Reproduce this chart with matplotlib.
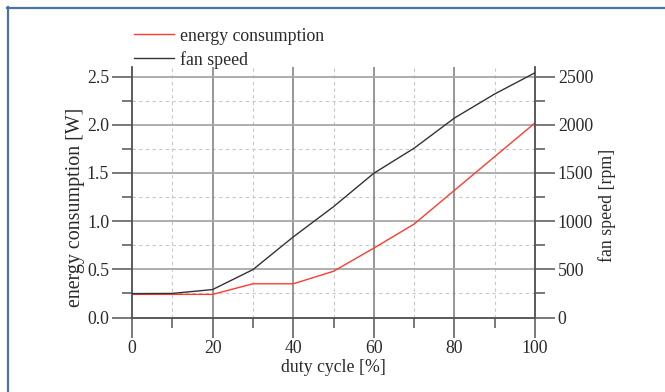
import matplotlib
matplotlib.use("Agg")
import matplotlib.pyplot as plt
from matplotlib.ticker import MultipleLocator
from matplotlib.lines import Line2D

duty_cycle = [0, 10, 20, 30, 40, 50, 60, 70, 80, 90, 100]
energy_w = [0.24, 0.24, 0.24, 0.35, 0.35, 0.48, 0.72, 0.97, 1.32, 1.67, 2.02]
fan_rpm = [248, 250, 290, 497, 836, 1150, 1497, 1757, 2070, 2320, 2540]

plt.rcParams['font.family'] = ['Liberation Serif', 'DejaVu Serif']
FS = 12.8
plt.rcParams['font.size'] = FS

fig = plt.figure(figsize=(6.65, 3.92), dpi=100)
W, H = 665, 392
ax = fig.add_axes([132 / W, 1 - 317.5 / H, (535 - 132) / W, (317.5 - 67) / H])
ax2 = ax.twinx()

red = '#ff3c2e'
dark = '#333333'
maj_v = '#7a7a7a'
maj_h = '#a8a8a8'
minc = '#c8c8c8'
txt = '#2a2a2a'

ax.set_xlim(0, 100)
ax.set_ylim(0, 2.6)
ax2.set_ylim(0, 2600)

ax.xaxis.set_major_locator(MultipleLocator(20))
ax.xaxis.set_minor_locator(MultipleLocator(10))
ax.set_yticks([0, 0.5, 1.0, 1.5, 2.0, 2.5])
ax.set_yticks([0.25, 0.75, 1.25, 1.75, 2.25], minor=True)
ax2.set_yticks([0, 500, 1000, 1500, 2000, 2500])
ax2.set_yticks([250, 750, 1250, 1750, 2250], minor=True)
ax.set_yticklabels(['0.0', '0.5', '1.0', '1.5', '2.0', '2.5'])

# grid
ax.grid(False)
for v in ax.get_xticks():
    if 0 < v < 100:
        ax.axvline(v, color=maj_v, lw=1.1, zorder=1)
for v in ax.xaxis.get_minorticklocs():
    if 0 < v < 100:
        ax.axvline(v, color=minc, lw=0.8, ls=(0, (3, 3)), zorder=0.5)
for v in [0.5, 1.0, 1.5, 2.0, 2.5]:
    ax.axhline(v, color=maj_h, lw=1.3, zorder=1)
for v in [0.25, 0.75, 1.25, 1.75, 2.25]:
    ax.axhline(v, color=minc, lw=0.8, ls=(0, (3, 3)), zorder=0.5)

for a in (ax, ax2):
    a.spines['top'].set_visible(False)
    for s in ('left', 'right', 'bottom'):
        a.spines[s].set_color('#555555')
        a.spines[s].set_linewidth(1.1)
    a.tick_params(which='major', length=14.4, width=1.1, color='#555555', pad=2.0,
                  labelcolor=txt, labelsize=FS)
    a.tick_params(which='minor', length=7.2, width=1.1, color='#555555')
ax.tick_params(axis='y', which='both', direction='out', right=False)
ax.tick_params(axis='x', which='both', direction='out', top=False)
ax2.tick_params(axis='y', which='both', direction='out')

ax.plot(duty_cycle, energy_w, color=red, lw=1.0, zorder=3)
ax2.plot(duty_cycle, fan_rpm, color=dark, lw=1.0, zorder=3)

ax.set_xlabel('duty cycle [%]', fontsize=FS, color=txt, labelpad=1)
ax.set_ylabel('energy consumption [W]', fontsize=14.4, color=txt, labelpad=1.5)
ax2.set_ylabel('fan speed [rpm]', fontsize=FS, color=txt, labelpad=3.5)
ax.yaxis.label.set_y(0.441)
ax2.yaxis.label.set_y(0.449)

handles = [Line2D([], [], color=red, lw=1.0), Line2D([], [], color=dark, lw=1.0)]
fig.legend(handles, ['energy consumption', 'fan speed'], loc='upper left',
           bbox_to_anchor=(130 / W, 1 - 24 / H), frameon=False, fontsize=FS,
           handlelength=2.25, handletextpad=0.34, labelspacing=0.35,
           borderaxespad=0, borderpad=0.2, labelcolor=txt)

# figure frame
fig.add_artist(Line2D([7 / W, 1.0], [1 - 7.5 / H, 1 - 7.5 / H], color='#4a74a6', lw=1.6,
                      transform=fig.transFigure))
fig.add_artist(Line2D([7.5 / W, 7.5 / W], [0, 1 - 7 / H], color='#4a74a6', lw=1.6,
                      transform=fig.transFigure))

fig.savefig('out.png', dpi=100)
